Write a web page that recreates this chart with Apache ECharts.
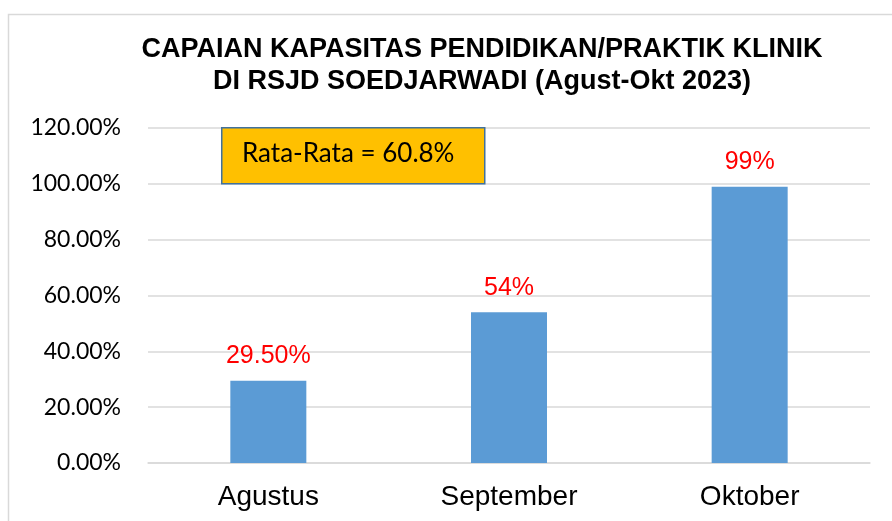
<!DOCTYPE html>
<html><head><meta charset="utf-8">
<script src="https://cdn.jsdelivr.net/npm/echarts@6/dist/echarts.min.js"></script>
<style>html,body{margin:0;padding:0;background:#fff}#c{width:892px;height:521px}</style>
</head><body><div id="c"></div>
<script>
var categories = ['Agustus', 'September', 'Oktober'];
var values = [29.5, 54, 99];
var valueLabels = ['29.50%', '54%', '99%'];
var yTicks = [0, 20, 40, 60, 80, 100, 120];
var titleLines = ['CAPAIAN KAPASITAS PENDIDIKAN/PRAKTIK KLINIK', 'DI RSJD SOEDJARWADI (Agust-Okt 2023)'];
var noteText = 'Rata-Rata = 60.8%';

var chart = echarts.init(document.getElementById('c'));
chart.setOption({
  animation: false,
  title: {
    text: titleLines.join('\n'),
    left: 477, top: 29, textAlign: 'center',
    textStyle: {fontFamily: 'Liberation Sans', fontWeight: 'bold', fontSize: 27, lineHeight: 32, color: '#000'}
  },
  grid: {left: 148, right: 22, top: 128, bottom: 58},
  xAxis: {
    type: 'category', data: categories,
    axisLine: {lineStyle: {color: '#d9d9d9', width: 1.5}},
    axisTick: {show: false},
    axisLabel: {fontFamily: 'Liberation Sans', fontSize: 28, color: '#000', margin: 20}
  },
  yAxis: {
    type: 'value', min: 0, max: 120, interval: 20,
    axisLine: {show: false}, axisTick: {show: false},
    splitLine: {lineStyle: {color: '#d9d9d9', width: 1.5}},
    axisLabel: {fontFamily: 'Lato', fontSize: 23, color: '#000', margin: 27,
      formatter: function (v) { return yTicks.indexOf(v) >= 0 ? v.toFixed(2) + '%' : ''; }}
  },
  series: [{
    type: 'bar', data: values, barWidth: 76,
    itemStyle: {color: '#5B9BD5'},
    label: {show: true, position: 'top', distance: 12, color: '#FF0000', fontFamily: 'Liberation Sans', fontSize: 25,
      formatter: function (p) { return valueLabels[p.dataIndex]; }}
  }],
  graphic: [
    {type: 'rect', left: 6, top: 12, shape: {width: 900, height: 520}, style: {fill: 'none', stroke: '#d9d9d9', lineWidth: 1.5}, silent: true},
    {type: 'rect', left: 221, top: 127, shape: {width: 263, height: 56}, style: {fill: '#FFC000', stroke: '#41719C', lineWidth: 1.5}, z: 10},
    {type: 'text', left: 242, top: 141, style: {text: noteText, fontFamily: 'Lato', fontSize: 26, fill: '#000'}, z: 11}
  ]
});
</script></body></html>
